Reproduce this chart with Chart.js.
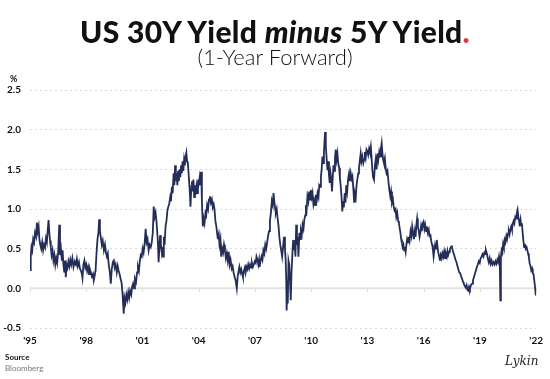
<!DOCTYPE html>
<html>
<head>
<meta charset="utf-8">
<script src="https://cdn.jsdelivr.net/npm/chart.js@4"></script>
<style>
  html, body { margin: 0; padding: 0; background: #fff; }
  body { width: 550px; height: 379px; position: relative; overflow: hidden; font-family: Lato, "Noto Sans", sans-serif; color: #111; }
  #title { position: absolute; left: 0; width: 550px; top: 16px; text-align: center; font-size: 30px; font-weight: 900; line-height: 1; letter-spacing: 0.3px; z-index: 2; }
  #title .dot { color: #e03a3a; }
  #subtitle { position: absolute; left: 0; width: 550px; top: 46px; text-align: center; font-size: 22px; font-weight: 300; line-height: 1; z-index: 2; }
  #unit { position: absolute; left: 10px; top: 73px; font-size: 9px; font-weight: 700; z-index: 2; }
  #source { position: absolute; left: 5px; top: 352px; font-size: 8px; line-height: 11px; z-index: 2; }
  #source b { color: #111; }
  #source span { color: #777; }
  #sig { position: absolute; left: 505px; top: 354px; font-family: "DejaVu Serif", serif; font-style: italic; font-size: 12px; color: #222; z-index: 2; }
  #chart { position: absolute; left: 0; top: 0; }
</style>
</head>
<body>
<canvas id="chart" width="550" height="379"></canvas>
<div id="title">US 30Y Yield <i>minus</i> 5Y Yield<span class="dot">.</span></div>
<div id="subtitle">(1-Year Forward)</div>
<div id="unit">%</div>
<div id="source"><b>Source</b><br><span>Bloomberg</span></div>
<div id="sig">Lykin</div>
<script>
// dates as decimal years, values in %
const dates = [
  1995.00, 1995.04, 1995.08, 1995.12, 1995.17, 1995.22, 1995.27, 1995.32, 1995.37, 1995.41, 1995.46, 1995.50, 1995.55, 1995.60, 1995.65, 1995.70, 1995.75, 1995.80, 1995.85, 1995.90, 1995.95, 1995.99,
  1996.03, 1996.07, 1996.11, 1996.15, 1996.20, 1996.25, 1996.30, 1996.35, 1996.40, 1996.45, 1996.50, 1996.56, 1996.60, 1996.65, 1996.70, 1996.74, 1996.78, 1996.83, 1996.87, 1996.91, 1996.95,
  1997.00, 1997.05, 1997.10, 1997.15, 1997.20, 1997.26, 1997.32, 1997.39, 1997.45, 1997.50, 1997.55, 1997.61, 1997.66, 1997.72, 1997.77, 1997.80, 1997.85, 1997.90, 1997.95,
  1998.00, 1998.05, 1998.10, 1998.15, 1998.20, 1998.25, 1998.30, 1998.36, 1998.40, 1998.45, 1998.50, 1998.55, 1998.60, 1998.65, 1998.69, 1998.73, 1998.78, 1998.83, 1998.88, 1998.94,
  1999.00, 1999.05, 1999.10, 1999.15, 1999.20, 1999.26, 1999.31, 1999.36, 1999.42, 1999.47, 1999.52, 1999.57, 1999.63, 1999.68, 1999.73, 1999.78, 1999.83, 1999.88, 1999.93,
  2000.00, 2000.04, 2000.09, 2000.14, 2000.19, 2000.24, 2000.29, 2000.34, 2000.40, 2000.45, 2000.50, 2000.55, 2000.60, 2000.66, 2000.71, 2000.76, 2000.81, 2000.86, 2000.91, 2000.96,
  2001.01, 2001.06, 2001.11, 2001.17, 2001.22, 2001.27, 2001.33, 2001.38, 2001.44, 2001.49, 2001.55, 2001.60, 2001.65, 2001.70, 2001.74, 2001.79, 2001.83, 2001.86, 2001.90, 2001.94, 2001.98,
  2002.03, 2002.07, 2002.10, 2002.14, 2002.18, 2002.23, 2002.28, 2002.33, 2002.38, 2002.43, 2002.48, 2002.52, 2002.57, 2002.61, 2002.66, 2002.70, 2002.74, 2002.78, 2002.82, 2002.86, 2002.90, 2002.94, 2002.98,
  2003.02, 2003.06, 2003.10, 2003.14, 2003.18, 2003.22, 2003.26, 2003.30, 2003.34, 2003.38, 2003.42, 2003.46, 2003.50, 2003.53, 2003.56, 2003.60, 2003.64, 2003.68, 2003.72, 2003.76, 2003.80, 2003.84, 2003.88, 2003.92, 2003.96,
  2004.00, 2004.05, 2004.09, 2004.13, 2004.17, 2004.22, 2004.26, 2004.31, 2004.36, 2004.40, 2004.45, 2004.50, 2004.55, 2004.60, 2004.65, 2004.70, 2004.75, 2004.80, 2004.84, 2004.89, 2004.94, 2004.98,
  2005.02, 2005.07, 2005.11, 2005.16, 2005.20, 2005.25, 2005.30, 2005.35, 2005.40, 2005.45, 2005.50, 2005.55, 2005.60, 2005.65, 2005.70, 2005.76, 2005.81, 2005.86, 2005.92, 2005.97,
  2006.03, 2006.08, 2006.13, 2006.17, 2006.22, 2006.27, 2006.32, 2006.36, 2006.41, 2006.46, 2006.50, 2006.54, 2006.59, 2006.64, 2006.69, 2006.74, 2006.79, 2006.84, 2006.89, 2006.94, 2006.99,
  2007.04, 2007.08, 2007.13, 2007.18, 2007.22, 2007.25, 2007.30, 2007.35, 2007.40, 2007.45, 2007.50, 2007.55, 2007.60, 2007.65, 2007.70, 2007.75, 2007.80, 2007.85, 2007.90, 2007.95, 2007.99,
  2008.03, 2008.07, 2008.11, 2008.16, 2008.21, 2008.26, 2008.30, 2008.35, 2008.40, 2008.45, 2008.50, 2008.55, 2008.60, 2008.64, 2008.67, 2008.69, 2008.72, 2008.75, 2008.79, 2008.83, 2008.87, 2008.91, 2008.95,
  2009.00, 2009.04, 2009.08, 2009.12, 2009.16, 2009.20, 2009.24, 2009.28, 2009.32, 2009.37, 2009.41, 2009.45, 2009.50, 2009.54, 2009.59, 2009.63, 2009.68, 2009.72, 2009.76, 2009.80, 2009.85, 2009.89, 2009.94, 2009.98,
  2010.03, 2010.07, 2010.12, 2010.16, 2010.21, 2010.25, 2010.30, 2010.34, 2010.39, 2010.43, 2010.48, 2010.52, 2010.56, 2010.60, 2010.64, 2010.68, 2010.71, 2010.74, 2010.78, 2010.82, 2010.87, 2010.91, 2010.95, 2010.99,
  2011.03, 2011.07, 2011.11, 2011.15, 2011.19, 2011.23, 2011.27, 2011.31, 2011.35, 2011.40, 2011.44, 2011.49, 2011.53, 2011.57, 2011.62, 2011.66, 2011.70, 2011.74, 2011.79, 2011.83, 2011.87, 2011.92, 2011.97,
  2012.02, 2012.06, 2012.11, 2012.16, 2012.20, 2012.25, 2012.29, 2012.33, 2012.38, 2012.42, 2012.46, 2012.51, 2012.55, 2012.60, 2012.64, 2012.68, 2012.73, 2012.78, 2012.82, 2012.86, 2012.91, 2012.95, 2012.99,
  2013.04, 2013.09, 2013.13, 2013.18, 2013.22, 2013.26, 2013.30, 2013.35, 2013.40, 2013.44, 2013.49, 2013.53, 2013.58, 2013.63, 2013.68, 2013.72, 2013.76, 2013.80, 2013.84, 2013.88, 2013.93, 2013.98,
  2014.02, 2014.07, 2014.12, 2014.17, 2014.22, 2014.26, 2014.31, 2014.36, 2014.40, 2014.45, 2014.50, 2014.54, 2014.59, 2014.64, 2014.68, 2014.72, 2014.76, 2014.80, 2014.84, 2014.88, 2014.92, 2014.96,
  2015.00, 2015.04, 2015.08, 2015.12, 2015.17, 2015.21, 2015.25, 2015.30, 2015.35, 2015.39, 2015.44, 2015.48, 2015.53, 2015.57, 2015.61, 2015.65, 2015.69, 2015.74, 2015.78, 2015.82, 2015.86, 2015.90, 2015.95, 2015.99,
  2016.04, 2016.08, 2016.13, 2016.17, 2016.22, 2016.27, 2016.31, 2016.36, 2016.40, 2016.45, 2016.49, 2016.53, 2016.57, 2016.61, 2016.66, 2016.70, 2016.74, 2016.78, 2016.83, 2016.87, 2016.91, 2016.96,
  2017.00, 2017.05, 2017.09, 2017.14, 2017.18, 2017.23, 2017.27, 2017.31, 2017.36, 2017.40, 2017.45, 2017.50, 2017.55, 2017.60, 2017.65, 2017.70, 2017.75, 2017.80, 2017.85, 2017.90, 2017.95,
  2018.00, 2018.05, 2018.10, 2018.14, 2018.19, 2018.24, 2018.29, 2018.33, 2018.37, 2018.42, 2018.47, 2018.52, 2018.58, 2018.63, 2018.68, 2018.73, 2018.78, 2018.84, 2018.89, 2018.94, 2018.99,
  2019.04, 2019.09, 2019.14, 2019.19, 2019.24, 2019.28, 2019.32, 2019.37, 2019.42, 2019.47, 2019.52, 2019.57, 2019.62, 2019.67, 2019.73, 2019.78, 2019.83, 2019.88, 2019.93, 2019.97,
  2020.02, 2020.06, 2020.09, 2020.12, 2020.16, 2020.20, 2020.24, 2020.28, 2020.32, 2020.36, 2020.41, 2020.45, 2020.50, 2020.54, 2020.58, 2020.63, 2020.67, 2020.71, 2020.76, 2020.80, 2020.84, 2020.89, 2020.93, 2020.97,
  2021.01, 2021.05, 2021.09, 2021.13, 2021.17, 2021.20, 2021.24, 2021.28, 2021.32, 2021.36, 2021.40, 2021.44, 2021.49, 2021.53, 2021.57, 2021.61, 2021.65, 2021.70, 2021.74, 2021.78, 2021.82, 2021.86, 2021.90, 2021.94, 2021.98
];

const spread = [
  0.23, 0.40, 0.52, 0.48, 0.62, 0.58, 0.70, 0.66, 0.83, 0.72, 0.78, 0.62, 0.55, 0.50, 0.58, 0.48, 0.55, 0.52, 0.63, 0.58, 0.75, 0.86,
  0.70, 0.60, 0.52, 0.42, 0.48, 0.35, 0.42, 0.30, 0.38, 0.32, 0.45, 0.80, 0.42, 0.50, 0.35, 0.48, 0.30, 0.20, 0.35, 0.14, 0.30,
  0.26, 0.34, 0.28, 0.36, 0.30, 0.38, 0.27, 0.34, 0.30, 0.37, 0.28, 0.33, 0.25, 0.22, 0.18, 0.13, 0.30, 0.35, 0.26,
  0.30, 0.22, 0.27, 0.18, 0.24, 0.20, 0.15, 0.18, 0.10, 0.16, 0.23, 0.45, 0.62, 0.70, 0.87, 0.72, 0.64, 0.55, 0.60, 0.48,
  0.55, 0.45, 0.40, 0.44, 0.30, 0.20, 0.06, 0.24, 0.33, 0.35, 0.26, 0.30, 0.20, 0.28, 0.22, 0.18, 0.12, 0.08, -0.05,
  -0.32, -0.12, -0.18, -0.08, -0.14, -0.05, -0.12, -0.03, -0.08, 0.02, 0.06, 0.00, 0.12, 0.08, 0.20, 0.27, 0.22, 0.35, 0.42, 0.40,
  0.50, 0.45, 0.55, 0.75, 0.58, 0.62, 0.48, 0.55, 0.52, 0.57, 0.70, 1.03, 0.90, 0.95, 0.86, 0.70, 0.55, 0.33, 0.50, 0.67, 0.55,
  0.45, 0.52, 0.40, 0.65, 0.55, 0.78, 0.85, 0.98, 1.03, 1.07, 1.15, 1.10, 1.28, 1.20, 1.45, 1.30, 1.55, 1.35, 1.45, 1.30, 1.48, 1.35, 1.50,
  1.40, 1.55, 1.45, 1.60, 1.48, 1.62, 1.55, 1.66, 1.71, 1.60, 1.58, 1.45, 1.30, 1.20, 1.03, 1.25, 1.35, 1.22, 1.37, 1.15, 1.30, 1.18, 1.28, 1.20, 1.37,
  1.32, 1.40, 1.30, 1.47, 1.10, 0.78, 0.88, 0.82, 0.95, 0.92, 1.05, 1.00, 1.12, 1.16, 1.08, 1.12, 1.02, 1.06, 1.00, 0.85, 0.78, 0.70,
  0.62, 0.68, 0.55, 0.62, 0.40, 0.50, 0.45, 0.55, 0.48, 0.38, 0.44, 0.35, 0.46, 0.30, 0.36, 0.25, 0.28, 0.20, 0.14, 0.10,
  0.00, 0.15, 0.22, 0.27, 0.20, 0.24, 0.18, 0.14, 0.22, 0.26, 0.20, 0.27, 0.24, 0.30, 0.25, 0.30, 0.26, 0.32, 0.27, 0.30, 0.34,
  0.32, 0.40, 0.36, 0.30, 0.36, 0.27, 0.35, 0.40, 0.36, 0.48, 0.44, 0.55, 0.50, 0.58, 0.66, 0.72, 0.85, 0.95, 1.10, 1.05, 1.20,
  1.10, 1.02, 0.95, 1.00, 0.88, 0.78, 0.65, 0.55, 0.48, 0.40, 0.52, 0.65, 0.50, 0.35, 0.10, -0.28, 0.00, -0.19, 0.35, 0.30, 0.10, -0.15, 0.20,
  0.45, 0.61, 0.48, 0.57, 0.40, 0.80, 0.55, 0.65, 0.40, 0.70, 0.62, 0.73, 0.68, 0.80, 0.75, 0.86, 0.92, 1.05, 1.00, 1.16, 1.10, 1.22, 1.12, 1.24,
  1.15, 1.20, 1.06, 1.11, 1.05, 1.18, 1.12, 1.20, 1.15, 1.30, 1.28, 1.41, 1.50, 1.66, 1.58, 1.72, 1.85, 1.97, 1.80, 1.65, 1.49, 1.60, 1.42, 1.33,
  1.45, 1.38, 1.22, 1.40, 1.55, 1.48, 1.65, 1.75, 1.62, 1.70, 1.58, 1.52, 1.40, 1.30, 1.15, 0.97, 1.10, 1.02, 1.20, 1.08, 1.30, 1.22, 1.38,
  1.45, 1.35, 1.45, 1.38, 1.41, 1.25, 1.09, 1.20, 1.15, 1.30, 1.37, 1.45, 1.52, 1.62, 1.70, 1.60, 1.66, 1.58, 1.62, 1.72, 1.65, 1.75, 1.73,
  1.68, 1.76, 1.72, 1.79, 1.65, 1.50, 1.40, 1.37, 1.55, 1.62, 1.50, 1.70, 1.62, 1.72, 1.66, 1.76, 1.83, 1.70, 1.62, 1.58, 1.64, 1.50,
  1.45, 1.48, 1.35, 1.24, 1.16, 1.22, 1.08, 1.12, 1.03, 0.98, 1.00, 0.90, 0.95, 0.85, 0.82, 0.76, 0.70, 0.62, 0.57, 0.52, 0.55, 0.48,
  0.52, 0.46, 0.55, 0.62, 0.58, 0.65, 0.60, 0.72, 0.66, 0.78, 0.70, 0.62, 0.72, 0.65, 0.80, 0.88, 0.78, 0.72, 0.65, 0.70, 0.78, 0.72, 0.82, 0.84,
  0.75, 0.80, 0.72, 0.78, 0.70, 0.74, 0.66, 0.67, 0.60, 0.55, 0.50, 0.40, 0.48, 0.55, 0.50, 0.61, 0.52, 0.45, 0.40, 0.35, 0.42, 0.38,
  0.44, 0.40, 0.46, 0.38, 0.44, 0.40, 0.47, 0.42, 0.46, 0.49, 0.52, 0.53, 0.48, 0.44, 0.40, 0.36, 0.33, 0.28, 0.24, 0.20, 0.19,
  0.15, 0.12, 0.08, 0.06, 0.03, 0.01, 0.04, -0.02, -0.03, 0.02, -0.01, 0.04, 0.06, 0.10, 0.14, 0.18, 0.22, 0.27, 0.30, 0.34, 0.32,
  0.38, 0.40, 0.43, 0.40, 0.45, 0.43, 0.48, 0.44, 0.38, 0.33, 0.38, 0.31, 0.35, 0.30, 0.33, 0.30, 0.34, 0.31, 0.36, 0.33,
  0.40, 0.33, -0.15, 0.40, 0.48, 0.45, 0.56, 0.52, 0.61, 0.58, 0.66, 0.62, 0.69, 0.72, 0.68, 0.75, 0.78, 0.74, 0.82, 0.85, 0.82, 0.90, 0.88, 0.95,
  0.99, 0.90, 0.85, 0.78, 0.86, 0.80, 0.82, 0.70, 0.60, 0.52, 0.56, 0.50, 0.52, 0.48, 0.44, 0.40, 0.32, 0.28, 0.23, 0.25, 0.19, 0.18, 0.10, 0.02, -0.09
];

const yearTicks = [1995, 1998, 2001, 2004, 2007, 2010, 2013, 2016, 2019, 2022];
const valueTicks = [-0.5, 0, 0.5, 1.0, 1.5, 2.0, 2.5];

const points = dates.map((d, i) => ({ x: d, y: spread[i] }));

// solid zero line plus the little year ticks sitting on it
const zeroLine = {
  id: "zeroLine",
  beforeDatasetsDraw(chart) {
    const { ctx, chartArea, scales } = chart;
    const y0 = scales.y.getPixelForValue(0);
    ctx.save();
    ctx.strokeStyle = "#e2e2e2";
    ctx.lineWidth = 2;
    ctx.beginPath();
    ctx.moveTo(chartArea.left, y0);
    ctx.lineTo(chartArea.right, y0);
    ctx.stroke();
    ctx.lineWidth = 1;
    yearTicks.forEach((yr) => {
      const x = Math.round(scales.x.getPixelForValue(yr)) + 0.5;
      ctx.beginPath();
      ctx.moveTo(x, y0);
      ctx.lineTo(x, y0 + 4);
      ctx.stroke();
    });
    ctx.restore();
  },
};

const tickFont = { family: "Lato", size: 10, weight: "bold" };

new Chart(document.getElementById("chart"), {
  type: "line",
  data: {
    datasets: [
      {
        data: points,
        borderColor: "#232d58",
        borderWidth: 1.8,
        pointRadius: 0,
        tension: 0,
      },
    ],
  },
  options: {
    responsive: false,
    animation: false,
    maintainAspectRatio: false,
    layout: { padding: { top: 90, right: 12, left: 0, bottom: 0 } },
    plugins: { legend: { display: false }, tooltip: { enabled: false } },
    scales: {
      x: {
        type: "linear",
        min: 1995,
        max: 2022,
        afterBuildTicks: (axis) => {
          axis.ticks = yearTicks.map((v) => ({ value: v }));
        },
        afterFit: (axis) => {
          axis.height = 51;
        },
        ticks: {
          font: tickFont,
          color: "#111",
          padding: 7,
          maxRotation: 0,
          callback: (v) => "'" + String(v).slice(2),
        },
        grid: { display: false, drawTicks: false },
        border: { display: false },
      },
      y: {
        min: -0.5,
        max: 2.5,
        afterBuildTicks: (axis) => {
          axis.ticks = valueTicks.map((v) => ({ value: v }));
        },
        afterFit: (axis) => {
          axis.width = 30;
        },
        ticks: {
          font: tickFont,
          color: "#111",
          padding: 9,
          callback: (v) => v.toFixed(1),
        },
        grid: {
          drawTicks: false,
          color: (c) => (c.tick && c.tick.value === 0 ? "rgba(0,0,0,0)" : "#d9d9d9"),
          lineWidth: 1,
        },
        border: { display: false, dash: [2, 3] },
      },
    },
  },
  plugins: [zeroLine],
});
</script>
</body>
</html>
